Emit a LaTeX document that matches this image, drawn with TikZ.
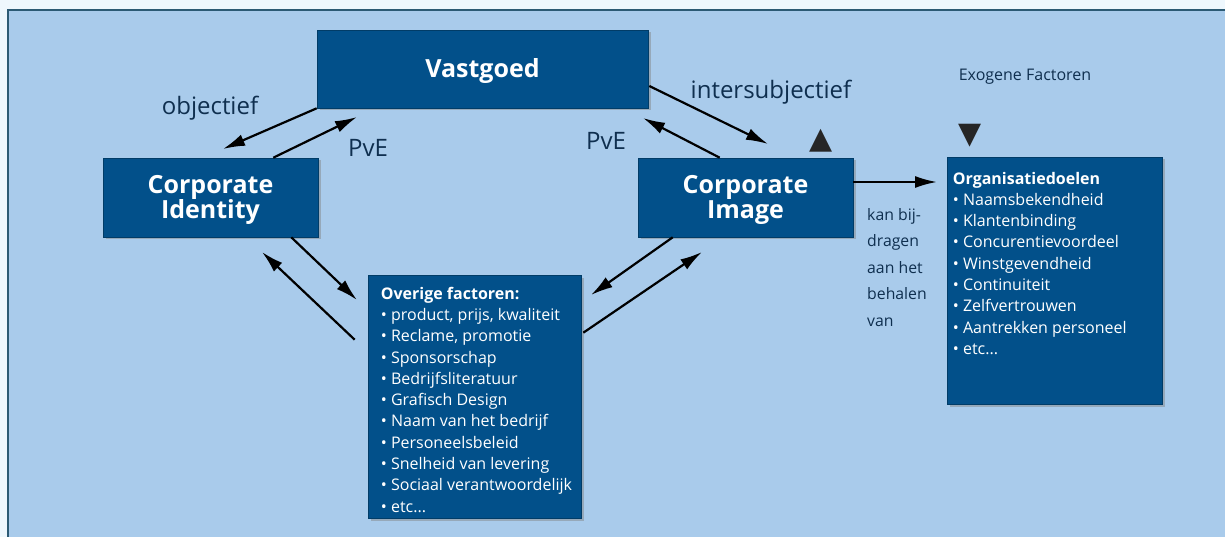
\documentclass[tikz,border=0pt]{standalone}
\usepackage{fontspec}
\setmainfont{Open Sans}
\newfontfamily\symbfont{DejaVu Sans}
\usetikzlibrary{arrows.meta,shadows,calc,positioning}
\definecolor{pagebg}{HTML}{EEF7FD}
\definecolor{panel}{HTML}{A9CBEB}
\definecolor{frameline}{HTML}{2C5A74}
\definecolor{boxblue}{HTML}{02508A}
\definecolor{navy}{HTML}{0F2F4F}
\tikzstyle{block} = [fill=boxblue, draw=boxblue!75!black, line width=0.6pt, inner sep=0pt,
  drop shadow={shadow xshift=2.5pt, shadow yshift=-2.5pt, opacity=0.45}]
\tikzstyle{blocktitle} = [text=white, align=center, inner sep=0pt, font=\bfseries\fontsize{25}{25.5}\selectfont]
\tikzstyle{listtext} = [text=white, align=left, inner sep=0pt, anchor=north west, font=\fontsize{16}{21.3}\selectfont]
\tikzstyle{edge} = [draw, line width=2.2pt, -{Latex[length=22pt,width=12pt]}]
\tikzstyle{flowtext} = [text=navy, inner sep=0pt, font=\fontsize{24}{26}\selectfont]
\tikzstyle{note} = [text=navy, inner sep=0pt, align=left, font=\fontsize{15.8}{26.5}\selectfont]
\tikzstyle{marker} = [text=black!85, inner sep=0pt, font=\symbfont\fontsize{30}{30}\selectfont]

\begin{document}
\begin{tikzpicture}[x=1pt, y=-1pt]
    % page and panel
    \clip (0,0) rectangle (1225,537);
    \fill[pagebg] (0,0) rectangle (1225,537);
    \filldraw[fill=panel, draw=frameline, line width=2pt] (8,10) rectangle (1245,560);

    % the five boxes
    \node[block, minimum width=331pt, minimum height=78pt] (vastgoed) at (482.5,69) {};
    \node[blocktitle] (vastgoedtxt) at ($(vastgoed.center)+(0,2)$) {Vastgoed};
    \node[block, minimum width=215pt, minimum height=79pt] (ci) at (210.5,197.5) {};
    \node[blocktitle] (citxt) at ($(ci.center)+(0,2.5)$) {Corporate\\Identity};
    \node[block, minimum width=215pt, minimum height=79pt] (cimage) at (745.5,197.5) {};
    \node[blocktitle] (cimagetxt) at ($(cimage.center)+(0,2.5)$) {Corporate\\Image};
    \node[block, minimum width=213pt, minimum height=243pt] (overige) at (474.5,396.5) {};
    \node[block, minimum width=215pt, minimum height=247pt] (doelen) at (1054.5,280.5) {};

    % lists in the boxes
    \node[listtext] (overigetxt) at ($(overige.north west)+(13,12)$)
      {\textbf{Overige factoren:}\\
       \textbullet{} product, prijs, kwaliteit\\
       \textbullet{} Reclame, promotie\\
       \textbullet{} Sponsorschap\\
       \textbullet{} Bedrijfsliteratuur\\
       \textbullet{} Grafisch Design\\
       \textbullet{} Naam van het bedrijf\\
       \textbullet{} Personeelsbeleid\\
       \textbullet{} Snelheid van levering\\
       \textbullet{} Sociaal verantwoordelijk\\
       \textbullet{} etc...};
    \node[listtext] (doelentxt) at ($(doelen.north west)+(6,15)$)
      {\textbf{Organisatiedoelen}\\
       \textbullet{} Naamsbekendheid\\
       \textbullet{} Klantenbinding\\
       \textbullet{} Concurentievoordeel\\
       \textbullet{} Winstgevendheid\\
       \textbullet{} Continuiteit\\
       \textbullet{} Zelfvertrouwen\\
       \textbullet{} Aantrekken personeel\\
       \textbullet{} etc...};

    % free ends of the arrows
    \coordinate (a1) at (223,149);
    \coordinate (a2) at (357,117);
    \coordinate (a3) at (768,144);
    \coordinate (a4) at (643,118);
    \coordinate (a5) at (937,182);
    \coordinate (a6) at (357,300);
    \coordinate (a7) at (262,252);
    \coordinate (a8) at (591,295);
    \coordinate (a9) at (702,252);

    % arrows
    \path[edge] (vastgoed.south west) -- (a1);
    \path[edge] ($(ci.north east)+(-45,0)$) -- (a2);
    \path[edge] ($(vastgoed.east)+(1,17)$) -- (a3);
    \path[edge] ($(cimage.north west)+(82,0)$) -- (a4);
    \path[edge] ($(cimage.east)+(0,-15.5)$) -- (a5);
    \path[edge] ($(ci.south east)+(-27,0)$) -- (a6);
    \path[edge] ($(overige.north west)+(-13,65)$) -- (a7);
    \path[edge] ($(cimage.south west)+(35,0)$) -- (a8);
    \path[edge] ($(overige.north east)+(2,58)$) -- (a9);

    % labels
    \node[flowtext] (objectief) at (210,108) {objectief};
    \node[flowtext] (pve1) at (368,148) {PvE};
    \node[flowtext] (pve2) at (606,141) {PvE};
    \node[flowtext] (intersub) at (771,92) {intersubjectief};
    \node[note, font=\fontsize{16}{18}\selectfont] (exogeen) at (1025,77) {Exogene Factoren};
    \node[note, anchor=north west] (bijdragen) at (867,208) {kan bij-\\dragen\\aan het\\behalen\\van};
    \node[marker] (up) at (821,141) {▲};
    \node[marker] (down) at (970,136) {▼};
\end{tikzpicture}
\end{document}
